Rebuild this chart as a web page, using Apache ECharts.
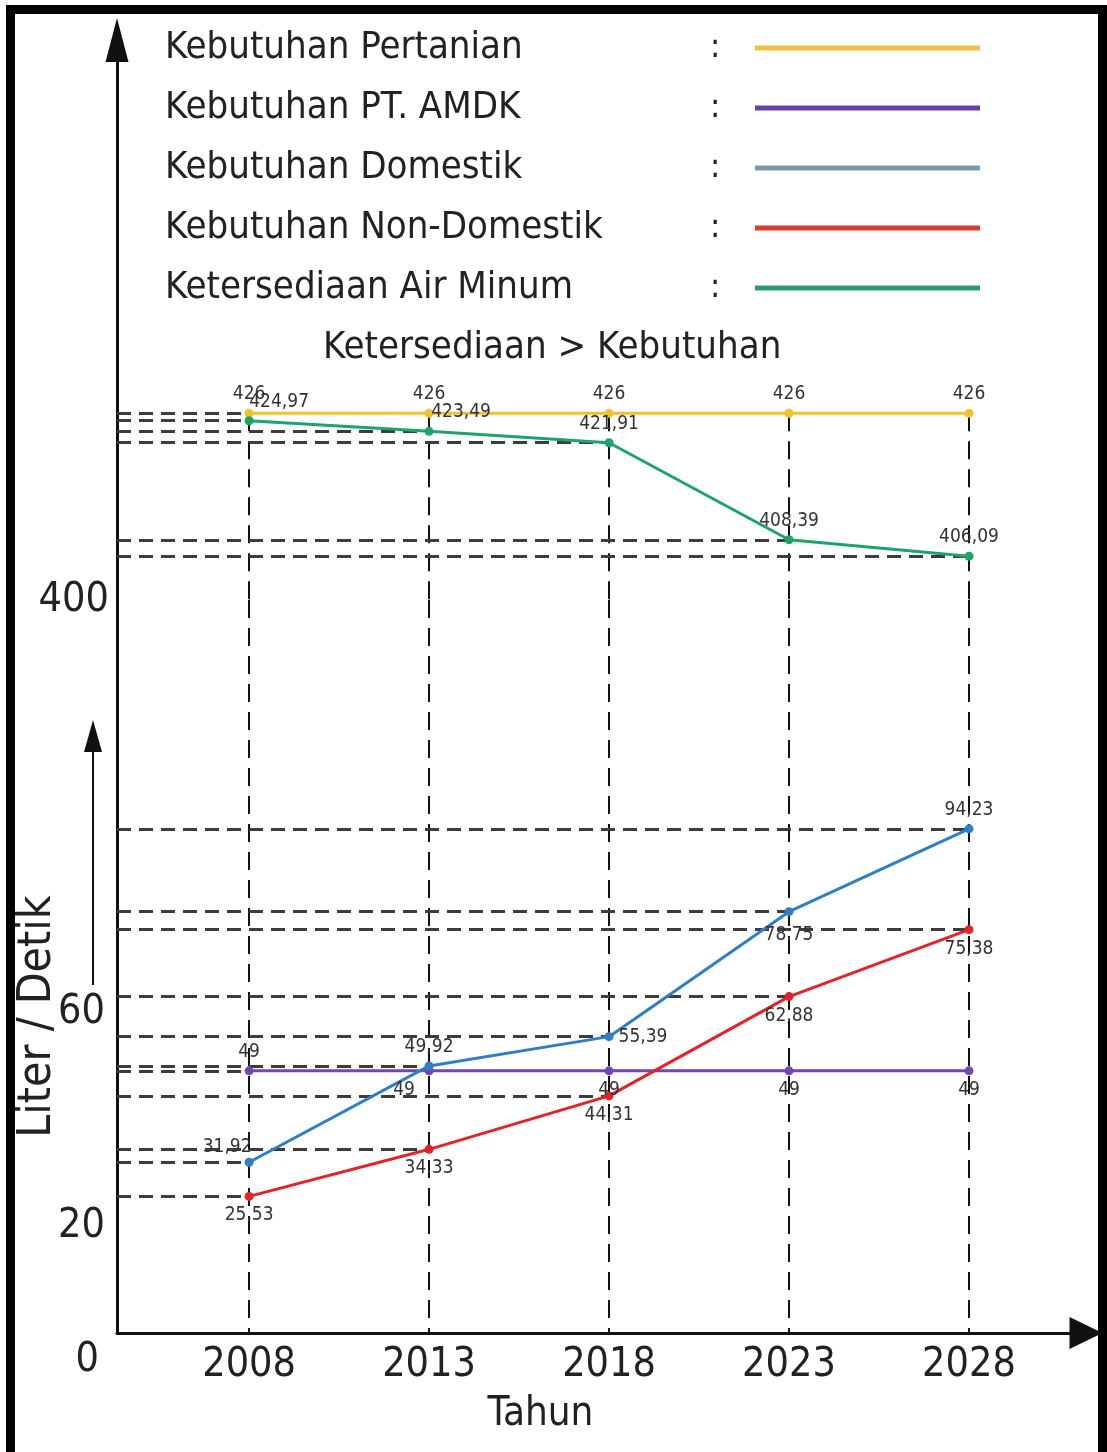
<!DOCTYPE html>
<html>
<head>
<meta charset="utf-8">
<script src="https://cdn.jsdelivr.net/npm/echarts@6/dist/echarts.min.js"></script>
<style>
  html, body { margin: 0; padding: 0; background: #fff; }
  #chart { width: 1107px; height: 1452px; }
</style>
</head>
<body>
<div id="chart"></div>
<script>
// data
const years = [2008, 2013, 2018, 2023, 2028];
const pertanian = [426, 426, 426, 426, 426];
const airMinum = [424.97, 423.49, 421.91, 408.39, 406.09];
const amdk = [49, 49, 49, 49, 49];
const domestik = [31.92, 49.92, 55.39, 78.75, 94.23];
const nonDomestik = [25.53, 34.33, 44.31, 62.88, 75.38];
const yTicksLow = [0, 20, 60];
const yTicksHigh = [400];

const FONT = "'Liberation Sans Narrow', 'Arial Narrow', 'DejaVu Sans Condensed', sans-serif";
const X_MIN = 2004.33;
const X_MAX = 2031.25;
const LOW_MAX = 137;

function fmt(v) {
  return String(v).replace('.', ',');
}

// horizontal guide from the y axis to each point
function guides(values, onlyFirst) {
  const list = onlyFirst ? values.slice(0, 1) : values;
  return list.map((v, i) => [{coord: [X_MIN, v]}, {coord: [years[i], v]}]);
}

function makeSeries(name, values, color, grid, places, onlyFirst, extraLines) {
  return {
    name: name,
    type: 'line',
    xAxisIndex: grid,
    yAxisIndex: grid,
    z: 4,
    symbol: 'circle',
    symbolSize: 9,
    lineStyle: {color: color, width: 3},
    itemStyle: {color: color},
    label: {
      show: true,
      fontFamily: FONT,
      fontSize: 19,
      color: '#333',
      formatter: p => fmt(p.value[1]),
    },
    data: values.map((v, i) => ({
      value: [years[i], v],
      label: {position: places[i][0], offset: places[i][1] || [0, 0]},
    })),
    markLine: {
      silent: true,
      z: 1,
      symbol: 'none',
      animation: false,
      label: {show: false},
      lineStyle: {color: '#3c3c3c', width: 3, type: [14, 8]},
      data: guides(values, onlyFirst).concat(extraLines || []),
    },
  };
}

const verticalStyle = {color: '#111', width: 2, type: [18, 10]};
const topVerticals = years.map(y => [{coord: [y, pertanian[0]], lineStyle: verticalStyle}, {coord: [y, 400]}]);
const lowVerticals = years.map(y => [{coord: [y, LOW_MAX], lineStyle: verticalStyle}, {coord: [y, 0]}]);

const chart = echarts.init(document.getElementById('chart'));
chart.setOption({
  animation: false,
  backgroundColor: '#fff',
  title: {
    text: 'Ketersediaan > Kebutuhan',
    left: 318,
    top: 324,
    textStyle: {fontFamily: FONT, fontSize: 38, fontWeight: 'normal', color: '#222'},
  },
  legend: {
    orient: 'vertical',
    left: 160,
    top: 24,
    itemGap: 22,
    align: 'right',
    icon: 'rect',
    itemWidth: 225,
    itemHeight: 5,
    data: [
      {name: 'Kebutuhan Pertanian', itemStyle: {color: '#f2c043'}},
      {name: 'Kebutuhan PT. AMDK', itemStyle: {color: '#6b3fa8'}},
      {name: 'Kebutuhan Domestik', itemStyle: {color: '#7b98b3'}},
      {name: 'Kebutuhan Non-Domestik', itemStyle: {color: '#db3b36'}},
      {name: 'Ketersediaan Air Minum', itemStyle: {color: '#2c9a6c'}},
    ],
    formatter: name => `{n|${name}}{c|:}`,
    textStyle: {
      rich: {
        n: {width: 545, align: 'left', fontFamily: FONT, fontSize: 38, lineHeight: 50, color: '#222'},
        c: {width: 40, align: 'left', fontFamily: FONT, fontSize: 34, lineHeight: 50, color: '#222'},
      },
    },
  },
  grid: [
    {left: 117, right: 21, top: 40, height: 560, outerBoundsMode: 'none', containLabel: false},
    {left: 117, right: 21, top: 600, height: 733, outerBoundsMode: 'none', containLabel: false},
  ],
  xAxis: [
    {gridIndex: 0, type: 'value', min: X_MIN, max: X_MAX, show: false},
    {
      gridIndex: 1,
      type: 'value',
      min: X_MIN,
      max: X_MAX,
      axisLine: {
        show: true,
        symbol: ['none', 'triangle'],
        symbolSize: [32, 33],
        lineStyle: {color: '#111', width: 3},
      },
      axisTick: {show: false},
      splitLine: {show: false},
      axisLabel: {
        customValues: years,
        formatter: v => String(v),
        fontFamily: FONT,
        fontSize: 41,
        color: '#222',
        margin: 12,
      },
      name: 'Tahun',
      nameLocation: 'middle',
      nameGap: 62,
      nameTextStyle: {fontFamily: FONT, fontSize: 40, color: '#222', padding: [0, 122, 0, 0]},
    },
  ],
  yAxis: [
    {
      gridIndex: 0,
      type: 'value',
      min: 400,
      max: 478,
      axisLine: {
        show: true,
        symbol: ['none', 'triangle'],
        symbolSize: [23, 44],
        lineStyle: {color: '#111', width: 3},
      },
      axisTick: {show: false},
      splitLine: {show: false},
      axisLabel: {
        customValues: yTicksHigh,
        fontFamily: FONT,
        fontSize: 41,
        color: '#222',
        margin: 8,
      },
    },
    {
      gridIndex: 1,
      type: 'value',
      min: 0,
      max: LOW_MAX,
      axisLine: {show: true, lineStyle: {color: '#111', width: 3}},
      axisTick: {show: false},
      splitLine: {show: false},
      axisLabel: {
        customValues: yTicksLow,
        formatter: v => (v === 0 ? '{o|0}' : String(v)),
        fontFamily: FONT,
        fontSize: 41,
        color: '#222',
        margin: 12,
        rich: {
          o: {fontFamily: FONT, fontSize: 41, color: '#222', padding: [54, 6, 0, 0]},
        },
      },
      name: 'Liter / Detik',
      nameLocation: 'middle',
      nameRotate: 90,
      nameGap: 56,
      nameMoveOverlap: false,
      nameTextStyle: {fontFamily: FONT, fontSize: 46, color: '#222', padding: [0, 100, 0, 0]},
    },
  ],
  graphic: [
    {
      type: 'rect',
      z: -10,
      silent: true,
      shape: {x: 10.5, y: 9.5, width: 1092, height: 1500},
      style: {fill: 'none', stroke: '#000', lineWidth: 9},
    },
    {
      type: 'line',
      silent: true,
      shape: {x1: 93, y1: 985, x2: 93, y2: 748},
      style: {stroke: '#111', lineWidth: 2},
    },
    {
      type: 'polygon',
      silent: true,
      shape: {points: [[93, 720], [84, 752], [102, 752]]},
      style: {fill: '#111'},
    },
  ],
  series: [
    makeSeries('Kebutuhan Pertanian', pertanian, '#f2c12e', 0,
      [['top'], ['top'], ['top'], ['top'], ['top']], true, topVerticals),
    makeSeries('Ketersediaan Air Minum', airMinum, '#1fa36b', 0,
      [['top', [30, 0]], ['top', [32, 0]], ['top'], ['top'], ['top']], false),
    makeSeries('Kebutuhan PT. AMDK', amdk, '#7446b3', 1,
      [['top'], ['bottom', [-25, 0]], ['bottom'], ['bottom'], ['bottom']], true, lowVerticals),
    makeSeries('Kebutuhan Domestik', domestik, '#2f7fc6', 1,
      [['top', [-22, 4]], ['top'], ['right'], ['bottom', [0, 4]], ['top']], false),
    makeSeries('Kebutuhan Non-Domestik', nonDomestik, '#e3232a', 1,
      [['bottom'], ['bottom'], ['bottom'], ['bottom'], ['bottom']], false),
  ],
});
</script>
</body>
</html>
